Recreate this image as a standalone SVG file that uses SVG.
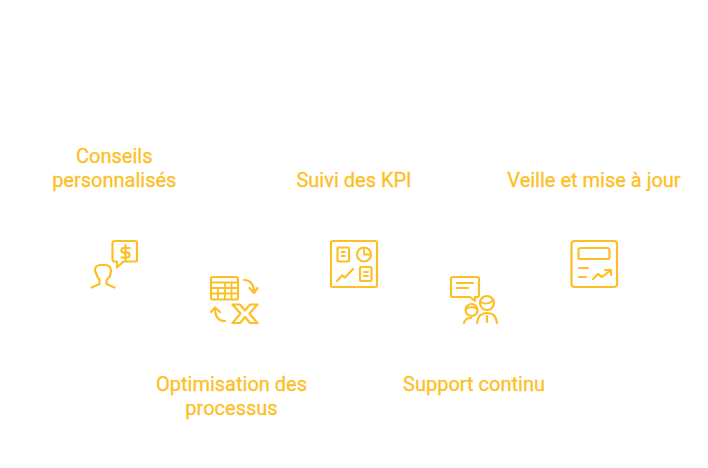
<svg xmlns="http://www.w3.org/2000/svg" width="708" height="468" viewBox="0 0 708 468">
<style>
text{font-family:Roboto,"Liberation Sans",sans-serif;font-size:20px;fill:#fdbf26;stroke:#fdbf26;stroke-width:.3;text-anchor:middle}
.i{fill:none;stroke:#fdbf26;stroke-width:2.2;stroke-linejoin:round;stroke-linecap:round}
.t{stroke-width:1.8}
</style>
<rect width="708" height="468" fill="#fff"/>
<g id="connectors"/>
<g id="node-conseils">
<text x="114.300" y="163">Conseils</text>
<text x="114.300" y="187">personnalisés</text>
<path class="i" d="M114.500 241H135Q137 241 137 243V259.500Q137 261.500 135 261.500H123.500L117 267.500V261.500H114.500Q112.500 261.500 112.500 259.500V243Q112.500 241 114.500 241Z"/>
<path class="i" d="M129.500 248H123.500Q121.500 248 121.500 250.200T123.500 252.700H127.500Q129.500 252.700 129.500 255T127.500 257.500H121.500M125.500 245V260"/>
<path class="i" d="M91.500 287.500L99.500 284V280Q97 277 96.500 274L95 271Q94.500 265 101 265H105Q111 265 111 271L110 276Q109 278 106.500 280V284L114.500 287.500"/>
</g>
<g id="node-optimisation">
<text x="231.500" y="391">Optimisation des</text>
<text x="231.500" y="415">processus</text>
<rect class="i" x="211" y="277" width="27" height="22.500" rx="2"/>
<path class="i" d="M211 282.500H238" stroke-width="3"/>
<path class="i t" d="M211 288H238M211 293.500H238M225 282.500V299M231.500 282.500V299M218 288V299"/>
<path class="i" d="M244 280Q254 280 254 293M249.500 288L254 293L257.500 288"/>
<path class="i" d="M225 321Q215 321 215 308M211 312L215 307.500L220 312"/>
<path class="i" d="M232.500 304.500H240L245 310.500L250 304.500H257.500L249.500 313.500L257.500 323H250L245 317L240 323H232.500L240.500 313.500Z"/>
</g>
<g id="node-kpi">
<text x="354" y="187">Suivi des KPI</text>
<rect class="i" x="331" y="241" width="46" height="46" rx="2"/>
<rect class="i" x="337.500" y="247.500" width="11.500" height="14" rx="1"/>
<path class="i t" d="M341.500 252H345M341.500 256H345"/>
<circle class="i" cx="364" cy="254.500" r="7"/>
<path class="i t" d="M364 249V254.500H370"/>
<rect class="i" x="360" y="267" width="11.500" height="14" rx="1"/>
<path class="i t" d="M364 272H368M364 276H368"/>
<path class="i" d="M337 281L342 275.500L345 277.500L353 269"/>
</g>
<g id="node-support">
<text x="474" y="391">Support continu</text>
<path class="i" d="M453 277H477Q479 277 479 279V295Q479 297 477 297H475V301L470 297H453Q451 297 451 295V279Q451 277 453 277Z"/>
<path class="i" d="M457 283H473M457 288H468"/>
<circle class="i" cx="471.500" cy="310" r="6"/>
<path class="i t" d="M466 309Q472 305 477 309"/>
<path class="i" d="M464 323Q465 318 471 318"/>
<circle class="i" cx="487" cy="303" r="7"/>
<path class="i t" d="M480.500 302Q487 306 493.500 300"/>
<path class="i" d="M477 323Q478 313 487 313Q496 313 497 323M487 316V322"/>
</g>
<g id="node-veille">
<text x="594" y="187">Veille et mise à jour</text>
<rect class="i" x="571.500" y="241" width="45.500" height="46" rx="3"/>
<rect class="i" x="578.500" y="248" width="31" height="11" rx="2"/>
<path class="i" d="M579 268H588M579 277H586M593 279L598 274L602 277L611 270M605 270H611V275"/>
</g>
</svg>
